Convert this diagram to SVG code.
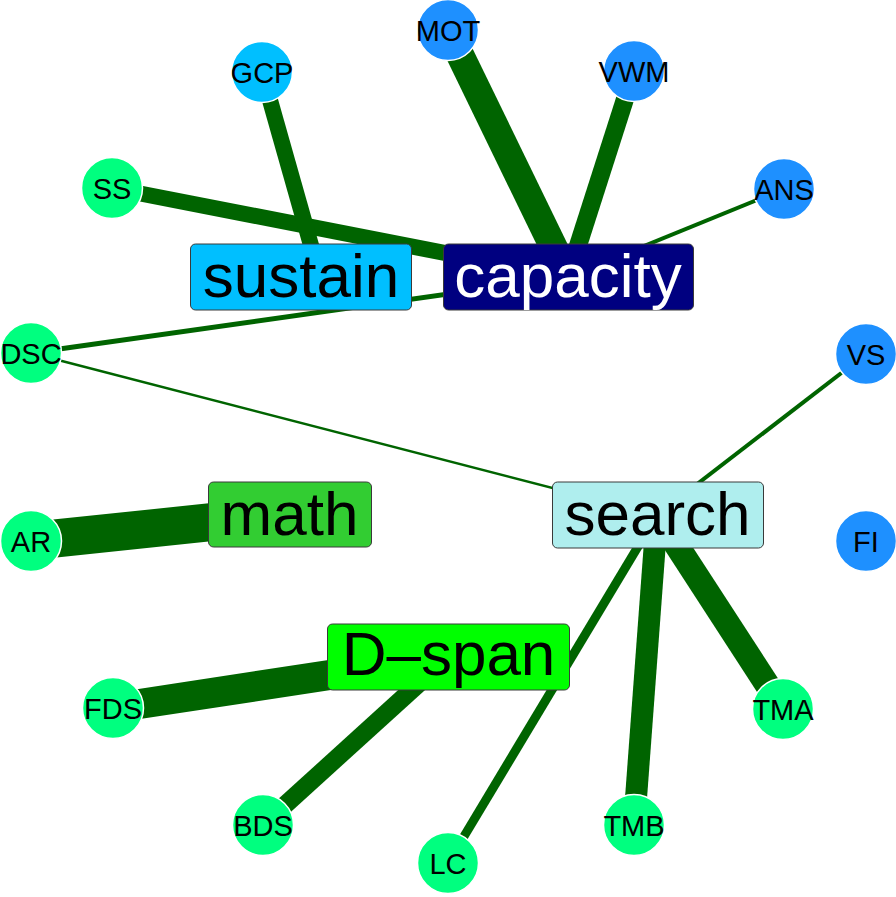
<svg xmlns="http://www.w3.org/2000/svg" width="896" height="897" viewBox="0 0 896 897">
<style>
.e{stroke:#006400;fill:none;stroke-linecap:butt}
.n{stroke:#ffffff;stroke-width:1.5}
.nl{font-family:"Liberation Sans",Arial,sans-serif;font-size:29px;fill:#000;text-anchor:middle}
.b{stroke:#3a3a3a;stroke-width:1}
.bl{font-family:"Liberation Sans",Arial,sans-serif;font-size:62px;text-anchor:middle}
.blue{fill:#1E90FF}.sky{fill:#00BFFF}.spring{fill:#00FF7F}
</style>
<rect width="896" height="897" fill="#ffffff"/>
<g id="edges">
<line class="e" x1="448" y1="30" x2="568" y2="277" stroke-width="28"/>
<line class="e" x1="634" y1="71" x2="568" y2="277" stroke-width="18"/>
<line class="e" x1="784" y1="189" x2="568" y2="277" stroke-width="4"/>
<line class="e" x1="112" y1="188" x2="568" y2="277" stroke-width="16"/>
<line class="e" x1="31" y1="353" x2="568" y2="277" stroke-width="5"/>
<line class="e" x1="262" y1="72" x2="320" y2="277" stroke-width="16"/>
<line class="e" x1="31" y1="353" x2="657" y2="515" stroke-width="2.5"/>
<line class="e" x1="866" y1="354" x2="657" y2="515" stroke-width="4"/>
<line class="e" x1="31" y1="541" x2="289" y2="514" stroke-width="38"/>
<line class="e" x1="113" y1="708" x2="448" y2="657" stroke-width="30"/>
<line class="e" x1="263" y1="825" x2="448" y2="657" stroke-width="18"/>
<line class="e" x1="448" y1="863" x2="657" y2="515" stroke-width="9"/>
<line class="e" x1="634" y1="825" x2="657" y2="515" stroke-width="22"/>
<line class="e" x1="783" y1="709" x2="657" y2="515" stroke-width="25"/>
</g>
<g id="sustain"><rect class="b" x="190.5" y="244" width="221" height="66" rx="5" fill="#00BFFF"/><text class="bl" x="301" y="297" fill="#000">sustain</text></g>
<g id="capacity"><rect class="b" x="443.5" y="244" width="250" height="66" rx="5" fill="#000080"/><text class="bl" x="568" y="297" fill="#fff">capacity</text></g>
<g id="math"><rect class="b" x="208.5" y="482" width="163" height="65" rx="5" fill="#32CD32"/><text class="bl" x="289.5" y="535" fill="#000">math</text></g>
<g id="search"><rect class="b" x="552.5" y="482" width="211" height="66" rx="5" fill="#AFEEEE"/><text class="bl" x="657.5" y="535" fill="#000">search</text></g>
<g id="dspan"><rect class="b" x="327.5" y="624" width="242" height="66" rx="5" fill="#00FF00"/><text class="bl" x="448.5" y="675" fill="#000">D–span</text></g>
<g id="MOT"><circle class="n blue" cx="448" cy="30" r="30.5"/><text class="nl" x="448" y="40.5">MOT</text></g>
<g id="VWM"><circle class="n blue" cx="634" cy="71" r="30.5"/><text class="nl" x="634" y="81.5">VWM</text></g>
<g id="ANS"><circle class="n blue" cx="784" cy="189" r="30.5"/><text class="nl" x="784" y="199.5">ANS</text></g>
<g id="VS"><circle class="n blue" cx="866" cy="354" r="30.5"/><text class="nl" x="866" y="364.5">VS</text></g>
<g id="FI"><circle class="n blue" cx="866" cy="541" r="30.5"/><text class="nl" x="866" y="551.5">FI</text></g>
<g id="GCP"><circle class="n sky" cx="262" cy="72" r="30.5"/><text class="nl" x="262" y="82.5">GCP</text></g>
<g id="SS"><circle class="n spring" cx="112" cy="188" r="30.5"/><text class="nl" x="112" y="198.5">SS</text></g>
<g id="DSC"><circle class="n spring" cx="31" cy="353" r="30.5"/><text class="nl" x="31" y="363.5">DSC</text></g>
<g id="AR"><circle class="n spring" cx="31" cy="541" r="30.5"/><text class="nl" x="31" y="551.5">AR</text></g>
<g id="FDS"><circle class="n spring" cx="113" cy="708" r="30.5"/><text class="nl" x="113" y="718.5">FDS</text></g>
<g id="BDS"><circle class="n spring" cx="263" cy="825" r="30.5"/><text class="nl" x="263" y="835.5">BDS</text></g>
<g id="LC"><circle class="n spring" cx="448" cy="863" r="30.5"/><text class="nl" x="448" y="873.5">LC</text></g>
<g id="TMB"><circle class="n spring" cx="634" cy="825" r="30.5"/><text class="nl" x="634" y="835.5">TMB</text></g>
<g id="TMA"><circle class="n spring" cx="783" cy="709" r="30.5"/><text class="nl" x="783" y="719.5">TMA</text></g>
</svg>
